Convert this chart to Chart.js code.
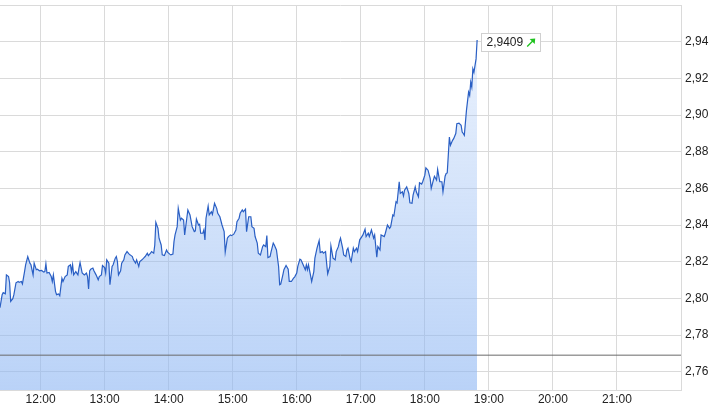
<!DOCTYPE html>
<html>
<head>
<meta charset="utf-8">
<script src="https://cdn.jsdelivr.net/npm/chart.js@4/dist/chart.umd.min.js"></script>
<style>
    html, body { margin: 0; padding: 0; background: #fff; }
    #wrap { width: 714px; height: 420px; }
</style>
</head>
<body>
<div id="wrap"><canvas id="chart" width="714" height="420"></canvas></div>
<script>
const times = [
    "11:22","11:24","11:25","11:27","11:28","11:30","11:31","11:32","11:34","11:35",
    "11:37","11:39","11:40","11:42","11:43","11:45","11:46","11:48","11:50","11:51",
    "11:53","11:54","11:56","11:57","11:59","12:01","12:03","12:04","12:05","12:06",
    "12:08","12:10","12:11","12:12","12:14","12:15","12:17","12:18","12:20","12:21",
    "12:23","12:25","12:26","12:28","12:29","12:30","12:31","12:33","12:35","12:36",
    "12:37","12:39","12:41","12:43","12:44","12:45","12:46","12:47","12:49","12:50",
    "12:52","12:54","12:55","12:57","12:58","13:00","13:01","13:02","13:04","13:05",
    "13:07","13:08","13:10","13:11","13:12","13:13","13:15","13:16","13:18","13:19",
    "13:21","13:23","13:24","13:26","13:27","13:29","13:30","13:32","13:33","13:35",
    "13:37","13:38","13:40","13:41","13:43","13:44","13:46","13:47","13:48","13:50",
    "13:51","13:53","13:54","13:56","13:58","13:59","14:01","14:02","14:04","14:05",
    "14:06","14:08","14:09","14:11","14:12","14:14","14:15","14:17","14:18","14:20",
    "14:22","14:24","14:25","14:26","14:28","14:29","14:30","14:32","14:33","14:34",
    "14:35","14:37","14:38","14:40","14:41","14:43","14:45","14:46","14:48","14:50",
    "14:52","14:53","14:55","14:56","14:58","14:59","15:01","15:03","15:04","15:06",
    "15:07","15:09","15:10","15:12","15:13","15:15","15:17","15:18","15:20","15:21",
    "15:23","15:24","15:26","15:28","15:29","15:31","15:32","15:33","15:35","15:36",
    "15:38","15:39","15:41","15:43","15:44","15:45","15:47","15:48","15:50","15:52",
    "15:53","15:55","15:57","15:58","16:00","16:01","16:03","16:04","16:06","16:08",
    "16:09","16:10","16:11","16:13","16:14","16:16","16:17","16:19","16:21","16:22",
    "16:24","16:25","16:27","16:28","16:29","16:31","16:32","16:34","16:36","16:37",
    "16:39","16:40","16:41","16:43","16:44","16:46","16:47","16:48","16:50","16:51",
    "16:53","16:54","16:56","16:57","16:59","17:01","17:02","17:04","17:05","17:07",
    "17:08","17:10","17:12","17:13","17:15","17:16","17:18","17:19","17:22","17:23",
    "17:25","17:27","17:28","17:30","17:31","17:33","17:34","17:36","17:37","17:39",
    "17:40","17:41","17:43","17:45","17:46","17:48","17:49","17:51","17:52","17:54",
    "17:55","17:57","17:58","18:00","18:01","18:03","18:05","18:06","18:08","18:09",
    "18:11","18:12","18:14","18:16","18:17","18:19","18:20","18:21","18:23","18:24",
    "18:26","18:27","18:29","18:30","18:32","18:34","18:35","18:36","18:37","18:39",
    "18:41","18:42","18:43","18:44","18:45","18:46","18:48","18:49"
];
const prices = [
    2.7949,2.8020,2.8031,2.8025,2.8128,2.8119,2.8085,2.7983,2.7998,2.8020,
    2.8085,2.8092,2.8087,2.8092,2.8079,2.8146,2.8183,2.8228,2.8192,2.8183,
    2.8128,2.8192,2.8156,2.8159,2.8150,2.8152,2.8143,2.8146,2.8188,2.8138,
    2.8141,2.8119,2.8092,2.8128,2.8038,2.8020,2.8024,2.8014,2.8110,2.8092,
    2.8119,2.8128,2.8174,2.8183,2.8146,2.8183,2.8128,2.8146,2.8128,2.8165,
    2.8195,2.8138,2.8128,2.8138,2.8119,2.8051,2.8150,2.8159,2.8165,2.8150,
    2.8128,2.8101,2.8119,2.8128,2.8179,2.8168,2.8138,2.8210,2.8192,2.8074,
    2.8174,2.8183,2.8219,2.8228,2.8201,2.8128,2.8150,2.8192,2.8210,2.8237,
    2.8255,2.8241,2.8237,2.8228,2.8210,2.8192,2.8210,2.8174,2.8201,2.8210,
    2.8222,2.8228,2.8246,2.8233,2.8246,2.8255,2.8246,2.8291,2.8415,2.8382,
    2.8328,2.8291,2.8237,2.8233,2.8264,2.8252,2.8241,2.8237,2.8241,2.8309,
    2.8346,2.8391,2.8491,2.8427,2.8437,2.8427,2.8346,2.8437,2.8482,2.8455,
    2.8391,2.8364,2.8368,2.8433,2.8400,2.8404,2.8355,2.8355,2.8373,2.8319,
    2.8437,2.8503,2.8455,2.8472,2.8458,2.8518,2.8491,2.8464,2.8445,2.8400,
    2.8364,2.8252,2.8328,2.8337,2.8346,2.8342,2.8350,2.8373,2.8418,2.8437,
    2.8464,2.8482,2.8472,2.8487,2.8364,2.8445,2.8445,2.8391,2.8382,2.8337,
    2.8301,2.8246,2.8237,2.8282,2.8291,2.8282,2.8342,2.8222,2.8228,2.8255,
    2.8301,2.8291,2.8264,2.8174,2.8074,2.8078,2.8128,2.8156,2.8179,2.8159,
    2.8092,2.8092,2.8110,2.8116,2.8138,2.8174,2.8214,2.8210,2.8183,2.8156,
    2.8183,2.8156,2.8183,2.8123,2.8092,2.8146,2.8219,2.8274,2.8315,2.8250,
    2.8255,2.8246,2.8255,2.8192,2.8134,2.8174,2.8286,2.8219,2.8210,2.8255,
    2.8282,2.8309,2.8328,2.8274,2.8237,2.8228,2.8264,2.8274,2.8214,2.8201,
    2.8274,2.8255,2.8274,2.8255,2.8319,2.8337,2.8346,2.8377,2.8337,2.8355,
    2.8337,2.8373,2.8328,2.8346,2.8225,2.8282,2.8264,2.8346,2.8337,2.8355,
    2.8400,2.8382,2.8391,2.8455,2.8449,2.8527,2.8521,2.8636,2.8572,2.8581,
    2.8558,2.8590,2.8608,2.8572,2.8521,2.8518,2.8563,2.8608,2.8581,2.8554,
    2.8630,2.8623,2.8636,2.8672,2.8712,2.8699,2.8654,2.8600,2.8645,2.8666,
    2.8645,2.8703,2.8636,2.8636,2.8581,2.8666,2.8681,2.8684,2.8880,2.8835,
    2.8862,2.8871,2.8899,2.8953,2.8956,2.8944,2.8907,2.8899,2.8889,2.9025,
    2.9125,2.9107,2.9179,2.9152,2.9252,2.9233,2.9306,2.9409
];
const prevClose = 2.769;
const hourTicks = ["12:00","13:00","14:00","15:00","16:00","17:00","18:00","19:00","20:00","21:00"];
const priceTicks = [2.76, 2.78, 2.80, 2.82, 2.84, 2.86, 2.88, 2.90, 2.92, 2.94];
const axisStart = "11:22";
const axisEnd = "22:00";
const lastLabel = "2,9409";

const toMin = s => { const [h, m] = s.split(":").map(Number); return h * 60 + m; };
const fromMin = v => String(Math.floor(v / 60)).padStart(2, "0") + ":" + String(v % 60).padStart(2, "0");
const FONT = '"Liberation Sans", Arial, sans-serif';
const GRID = "#dadada";

// top edge of the plot frame
const topBorder = {
    id: "topBorder",
    beforeDatasetsDraw(chart) {
        const { ctx, chartArea: a } = chart;
        ctx.save();
        ctx.strokeStyle = GRID;
        ctx.lineWidth = 1;
        ctx.beginPath();
        ctx.moveTo(a.left, Math.round(a.top) + 0.5);
        ctx.lineTo(a.right, Math.round(a.top) + 0.5);
        ctx.stroke();
        ctx.restore();
    }
};

const lastValueBox = {
    id: "lastValueBox",
    afterDatasetsDraw(chart) {
        const meta = chart.getDatasetMeta(0);
        const pt = meta.data[meta.data.length - 1];
        const ctx = chart.ctx;
        ctx.save();
        ctx.font = "12px " + FONT;
        const tw = ctx.measureText(lastLabel).width;
        const bx = Math.round(pt.x + 4) + 0.5, by = Math.round(pt.y - 7) + 0.5;
        const bw = Math.round(tw + 22), bh = 18;
        ctx.fillStyle = "#fff";
        ctx.strokeStyle = "#d0d0d0";
        ctx.lineWidth = 1;
        ctx.fillRect(bx, by, bw, bh);
        ctx.strokeRect(bx, by, bw, bh);
        ctx.fillStyle = "#222";
        ctx.textBaseline = "middle";
        ctx.fillText(lastLabel, bx + 5, by + bh / 2 + 0.5);
        // green up arrow
        const ax = bx + tw + 9, ay = by + 13;
        ctx.strokeStyle = "#1fc21f";
        ctx.fillStyle = "#1fc21f";
        ctx.lineWidth = 1.3;
        ctx.beginPath();
        ctx.moveTo(ax, ay);
        ctx.lineTo(ax + 6, ay - 6);
        ctx.stroke();
        ctx.beginPath();
        ctx.moveTo(ax + 8, ay - 8);
        ctx.lineTo(ax + 2.5, ay - 7.5);
        ctx.lineTo(ax + 7.5, ay - 2.5);
        ctx.closePath();
        ctx.fill();
        ctx.restore();
    }
};

const ctx = document.getElementById("chart").getContext("2d");
new Chart(ctx, {
    type: "line",
    data: {
        datasets: [{
            data: times.map((t, i) => ({ x: toMin(t), y: prices[i] })),
            borderColor: "#2a5fc4",
            borderWidth: 1.2,
            pointRadius: 0,
            tension: 0,
            order: 1,
            fill: "start",
            backgroundColor: (c) => {
                const area = c.chart.chartArea;
                if (!area) return "rgba(143,183,243,0.4)";
                const g = c.chart.ctx.createLinearGradient(0, area.top, 0, area.bottom);
                g.addColorStop(0, "rgba(143,183,243,0.15)");
                g.addColorStop(1, "rgba(143,183,243,0.62)");
                return g;
            }
        }, {
            data: [{ x: toMin(axisStart), y: prevClose }, { x: toMin(axisEnd), y: prevClose }],
            borderColor: "#6a6a6a",
            borderWidth: 1,
            pointRadius: 0,
            fill: false,
            order: 0
        }]
    },
    options: {
        responsive: false,
        animation: false,
        devicePixelRatio: 1,
        layout: { padding: { top: 5, left: 0, right: 0, bottom: 0 } },
        plugins: { legend: { display: false }, tooltip: { enabled: false } },
        scales: {
            x: {
                type: "linear",
                min: toMin(axisStart),
                max: toMin(axisEnd),
                afterBuildTicks: s => { s.ticks = hourTicks.map(h => ({ value: toMin(h) })); },
                afterFit: s => { s.height = 30; s.paddingLeft = 0; s.paddingRight = 0; },
                grid: { color: GRID, drawTicks: false },
                border: { color: GRID },
                ticks: {
                    padding: 2,
                    maxRotation: 0,
                    autoSkip: false,
                    color: "#222",
                    font: { size: 12, family: FONT },
                    callback: v => fromMin(v)
                }
            },
            y: {
                position: "right",
                min: 2.75,
                max: 2.96,
                afterBuildTicks: s => { s.ticks = priceTicks.map(v => ({ value: v })); },
                afterFit: s => { s.width = 33; s.paddingTop = 0; s.paddingBottom = 0; },
                grid: { color: GRID, drawTicks: false },
                border: { color: GRID },
                ticks: {
                    padding: 4,
                    color: "#222",
                    font: { size: 12, family: FONT },
                    callback: v => v.toFixed(2).replace(".", ",")
                }
            }
        }
    },
    plugins: [topBorder, lastValueBox]
});
</script>
</body>
</html>
